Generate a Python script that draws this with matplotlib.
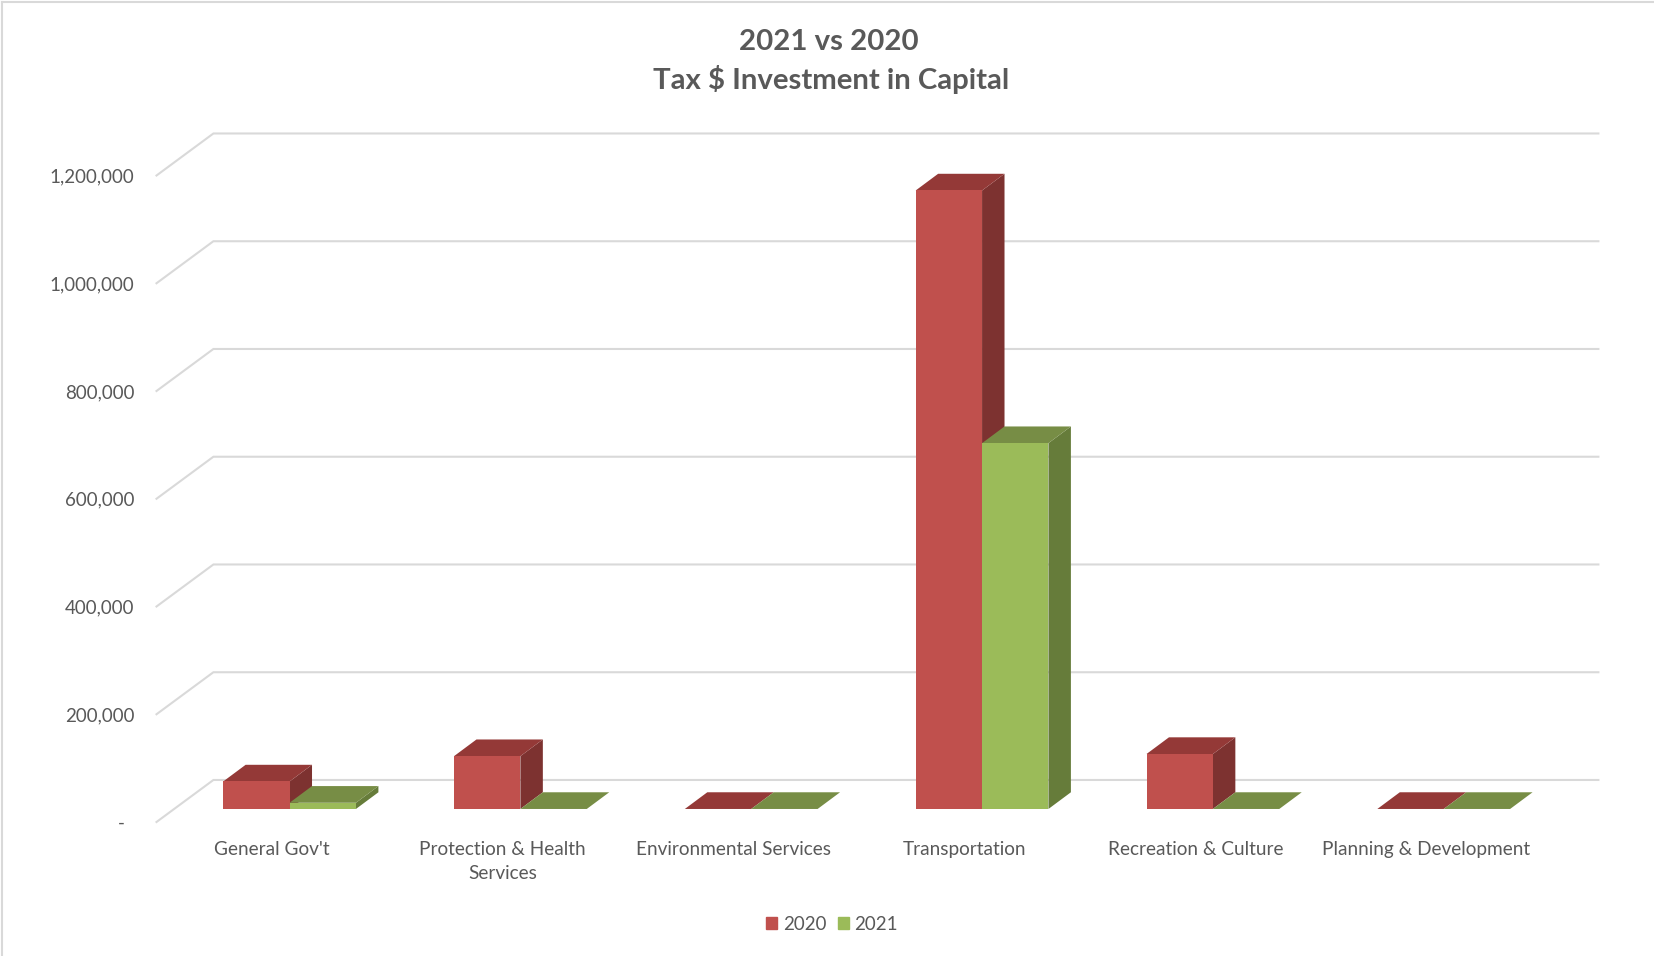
import matplotlib
matplotlib.use('Agg')
import matplotlib.pyplot as plt
from matplotlib.lines import Line2D
from matplotlib.patches import Patch

categories = ["General Gov't", "Protection & Health\nServices", "Environmental Services",
              "Transportation", "Recreation & Culture", "Planning & Development"]
values_2020 = [51000, 98000, 0, 1148000, 102000, 0]
values_2021 = [11500, 0, 0, 679000, 0, 0]
y_ticks = [0, 200000, 400000, 600000, 800000, 1000000, 1200000]
y_labels = ['-  ', '200,000', '400,000', '600,000', '800,000', '1,000,000', '1,200,000']

# front, top, side shades for the fake 3D look
colors_2020 = ('#C0504D', '#943937', '#7D3230')
colors_2021 = ('#9BBB59', '#778D45', '#667C3A')
text_color = '#595959'
grid_color = '#D9D9D9'

plt.rcParams['font.family'] = ['Lato', 'DejaVu Sans']

W, H = 1654, 956
fig = plt.figure(figsize=(W / 100, H / 100), dpi=100)
ax = fig.add_axes([156.5 / W, (H - 822) / H, 1385 / W, 646.5 / H])
ax.set_xlim(0, 6)
ax.set_ylim(0, 1200000)
for s in ax.spines.values():
    s.set_visible(False)

# depth of the floor, and of a bar, in data units
floor_dx = 0.2465
floor_dy = 78000
bar_dx = 0.0973
bar_dy = 31000
plane = 0.31
bar_w = 0.2876

# gridlines: short slanted piece then along the back wall
for v in y_ticks:
    ax.plot([0, floor_dx, 6 + floor_dx], [v, v + floor_dy, v + floor_dy],
            color=grid_color, lw=1.5, clip_on=False, zorder=1, solid_joinstyle='miter')


def draw_bar(x0, v, colors, z):
    off_x = plane * floor_dx
    off_y = plane * floor_dy
    x0 = x0 + off_x
    x1 = x0 + bar_w
    y0 = off_y
    y1 = off_y + v
    if v > 0:
        ax.fill([x0, x1, x1, x0], [y0, y0, y1, y1], color=colors[0], lw=0, clip_on=False, zorder=z + 2)
        ax.fill([x1, x1 + bar_dx, x1 + bar_dx, x1], [y0, y0 + bar_dy, y1 + bar_dy, y1],
                color=colors[2], lw=0, clip_on=False, zorder=z)
    ax.fill([x0, x1, x1 + bar_dx, x0 + bar_dx], [y1, y1, y1 + bar_dy, y1 + bar_dy],
            color=colors[1], lw=0, clip_on=False, zorder=z + 1)


for i in range(len(categories)):
    draw_bar(i + 0.5 - bar_w, values_2020[i], colors_2020, 3)
    draw_bar(i + 0.5, values_2021[i], colors_2021, 6)

ax.set_yticks(y_ticks)
ax.set_yticklabels(y_labels, fontsize=13.5, color=text_color)
ax.set_xticks([i + 0.5 for i in range(len(categories))])
ax.set_xticklabels(categories, fontsize=13.7, color=text_color, linespacing=1.5)
ax.tick_params(axis='y', length=0, pad=16)
ax.tick_params(axis='x', length=0, pad=13.5)

fig.text(829 / W, 1 - 42 / H, '2021 vs 2020', ha='center', va='center',
         fontsize=21.2, fontweight='bold', color=text_color)
fig.text(831.5 / W, 1 - 79 / H, 'Tax $ Investment in Capital', ha='center', va='center',
         fontsize=21.2, fontweight='bold', color=text_color)

handles = [Patch(color=colors_2020[0], label='2020'), Patch(color=colors_2021[0], label='2021')]
fig.legend(handles=handles, loc='center', bbox_to_anchor=(832 / W, 1 - 924 / H), ncol=2, frameon=False,
           fontsize=13.5, labelcolor=text_color, handlelength=0.6, handleheight=0.6,
           handletextpad=0.3, columnspacing=0.6, borderpad=0)

# chart border, only top and left show in the crop
fig.add_artist(Line2D([2 / W, 2 / W], [0, 1 - 2 / H], color=grid_color, lw=1.5))
fig.add_artist(Line2D([2 / W, 1], [1 - 2 / H, 1 - 2 / H], color=grid_color, lw=1.5))

fig.savefig('out.png', dpi=100)
plt.close(fig)
